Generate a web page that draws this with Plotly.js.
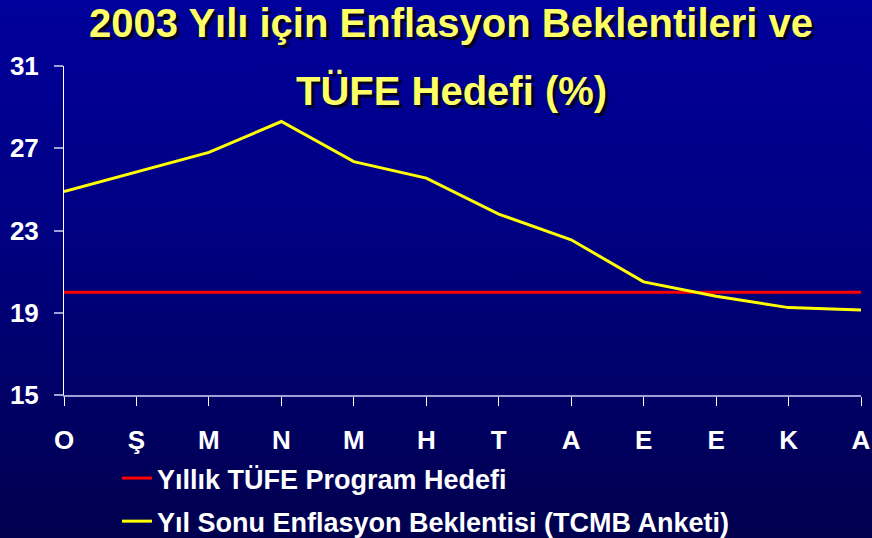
<!DOCTYPE html>
<html>
<head>
<meta charset="utf-8">
<script src="https://cdn.plot.ly/plotly-3.0.1.min.js"></script>
<style>
  html, body { margin: 0; padding: 0; }
  body { width: 872px; height: 538px; background: linear-gradient(to bottom, #00009c 0%, #000080 45%, #00004e 100%); }
  #chart { width: 872px; height: 538px; }
</style>
</head>
<body>
<div id="chart"></div>
<script>
const months = ["O", "Ş", "M", "N", "M", "H", "T", "A", "E", "E", "K", "A"];
const targetValues = [20, 20, 20, 20, 20, 20, 20, 20, 20, 20, 20, 20];
const expectationValues = [24.9, 25.85, 26.8, 28.3, 26.35, 25.55, 23.8, 22.55, 20.5, 19.8, 19.25, 19.13];
const yTicks = [15, 19, 23, 27, 31];
const seriesNames = ["Yıllık TÜFE Program Hedefi", "Yıl Sonu Enflasyon Beklentisi (TCMB Anketi)"];
const titleLines = ["2003 Yılı için Enflasyon Beklentileri ve", "TÜFE Hedefi (%)"];

const xIdx = months.map((_, i) => i);
const FONT = "Liberation Sans, Arial, sans-serif";

const traces = [
  { x: xIdx, y: targetValues, type: "scatter", mode: "lines", name: seriesNames[0],
    legendgroup: "a", line: { color: "#ff0000", width: 3 } },
  { x: xIdx, y: expectationValues, type: "scatter", mode: "lines", name: seriesNames[1],
    legendgroup: "b", line: { color: "#ffff00", width: 3 } }
];

const titleFont = { family: FONT, size: 40, color: "#ffff66", weight: "bold", shadow: "3px 3px 1px #000028" };

const layout = {
  width: 872, height: 538,
  margin: { l: 64, r: 11, t: 66, b: 143, autoexpand: false },
  paper_bgcolor: "rgba(0,0,0,0)",
  plot_bgcolor: "rgba(0,0,0,0)",
  font: { family: FONT, color: "#ffffff", size: 24, weight: "bold" },
  showlegend: true,
  legend: {
    xref: "container", yref: "container",
    x: 117 / 872, y: 1 - 454 / 538, xanchor: "left", yanchor: "top",
    bgcolor: "rgba(0,0,0,0)", borderwidth: 0,
    traceorder: "grouped", tracegroupgap: 5,
    font: { family: FONT, size: 27, color: "#ffffff", weight: "bold" }
  },
  xaxis: {
    range: [0, 11], tickmode: "array", tickvals: xIdx, ticktext: months,
    showgrid: false, zeroline: false,
    showline: true, linecolor: "#a0a0d8", linewidth: 2,
    ticks: "outside", ticklen: 9, tickcolor: "#ffffff", tickwidth: 1,
    ticklabelstandoff: 12,
    tickfont: { family: FONT, size: 26, color: "#ffffff", weight: "bold" }
  },
  yaxis: {
    range: [15, 31], tickmode: "array", tickvals: yTicks,
    showgrid: false, zeroline: false,
    showline: true, linecolor: "#ffffff", linewidth: 1,
    ticks: "outside", ticklen: 9, tickcolor: "#a0a0d8", tickwidth: 2,
    ticklabelstandoff: 10,
    tickfont: { family: FONT, size: 26, color: "#ffffff", weight: "bold" }
  },
  annotations: [
    { text: titleLines[0], xref: "paper", yref: "paper", x: (451 - 64) / 797, y: (395 - 23) / 329,
      xanchor: "center", yanchor: "middle", showarrow: false, font: titleFont },
    { text: titleLines[1], xref: "paper", yref: "paper", x: (451 - 64) / 797, y: (395 - 91) / 329,
      xanchor: "center", yanchor: "middle", showarrow: false, font: titleFont }
  ]
};

Plotly.newPlot("chart", traces, layout, { displayModeBar: false, staticPlot: true });
</script>
</body>
</html>
